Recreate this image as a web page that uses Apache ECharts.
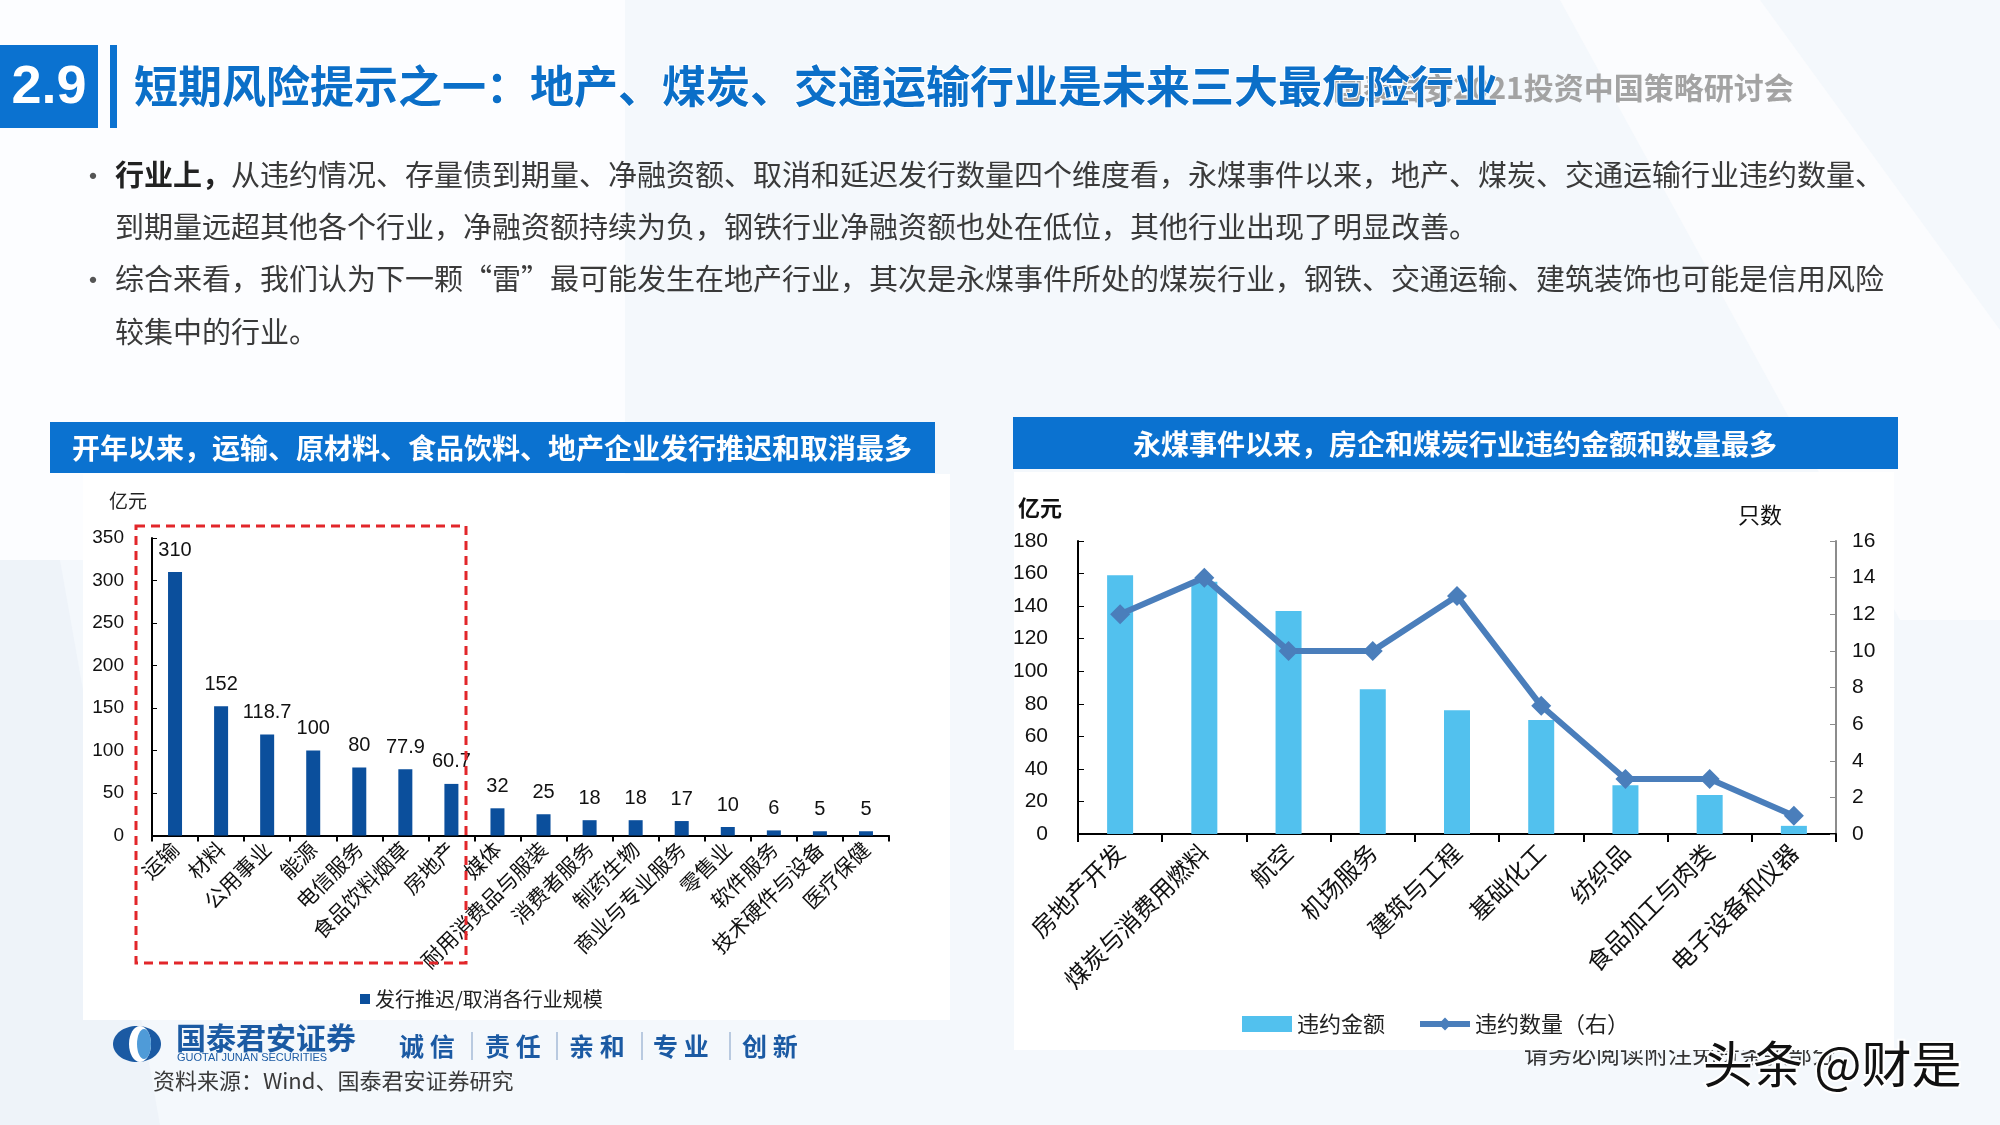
<!DOCTYPE html>
<html>
<head>
<meta charset="utf-8">
<title>短期风险提示之一</title>
<script src="https://cdn.jsdelivr.net/npm/echarts@6/dist/echarts.min.js"></script>
<style>
    html, body { margin: 0; padding: 0; background: #f4f8fc; }
    #main { width: 2000px; height: 1125px; }
</style>
</head>
<body>
<div id="main"></div>
<script type="text/javascript">
    // 左图：发行推迟/取消各行业规模（亿元）
    var leftCats = ['运输', '材料', '公用事业', '能源', '电信服务', '食品饮料烟草', '房地产', '媒体',
        '耐用消费品与服装', '消费者服务', '制药生物', '商业与专业服务', '零售业', '软件服务', '技术硬件与设备', '医疗保健'];
    var leftVals = [310, 152, 118.7, 100, 80, 77.9, 60.7, 32, 25, 18, 18, 17, 10, 6, 5, 5];

    // 右图：永煤事件以来违约金额（亿元）与违约数量（只）
    var rightCats = ['房地产开发', '煤炭与消费用燃料', '航空', '机场服务', '建筑与工程', '基础化工', '纺织品', '食品加工与肉类', '电子设备和仪器'];
    var rightAmt = [159, 155, 137, 89, 76, 70, 30, 24, 5];
    var rightNum = [12, 14, 10, 10, 13, 7, 3, 3, 1];

    var cjk = '"Noto Sans CJK SC", sans-serif';
    var num = '"Liberation Sans", Arial, sans-serif';
    var blue = '#0b72d0';

    var myChart = echarts.init(document.getElementById('main'));

    function txt(x, y, s, size, color, extra) {
        var st = { text: s, x: x, y: y, fontSize: size, fontFamily: cjk, fill: color, verticalAlign: 'middle' };
        for (var k in extra) st[k] = extra[k];
        return { type: 'text', z: 5, style: st };
    }

    var graphics = [
        // 背景斜块
        { type: 'rect', z: -10, shape: { x: 0, y: 0, width: 625, height: 560 }, style: { fill: '#fcfdff' } },
        { type: 'polygon', z: -9, shape: { points: [[1560, 0], [1760, 0], [2000, 330], [2000, 620], [1900, 620]] }, style: { fill: '#fbfcfe' } },
        { type: 'polygon', z: -9, shape: { points: [[0, 560], [60, 560], [160, 1125], [0, 1125]] }, style: { fill: '#eef3f9' } },

        // 标题
        { type: 'rect', z: 5, shape: { x: 0, y: 45, width: 98, height: 83 }, style: { fill: blue } },
        txt(49, 88, '2.9', 54, '#fff', { fontFamily: num, fontWeight: 'bold', align: 'center' }),
        { type: 'rect', z: 5, shape: { x: 110, y: 45, width: 7, height: 83 }, style: { fill: blue } },
        txt(1333, 88, '国泰君安2021投资中国策略研讨会', 30, '#a3a3a3', { fontWeight: 'bold' }),
        txt(134, 86, '短期风险提示之一：地产、煤炭、交通运输行业是未来三大最危险行业', 44, '#0b6fc8',
            { fontWeight: 'bold', stroke: '#ffffff', lineWidth: 2 }),

        // 要点
        txt(78, 176, '•', 30, '#555'),
        { type: 'text', z: 5, style: {
            x: 115, y: 175, verticalAlign: 'middle', fill: '#3a3a3a', fontSize: 29, fontFamily: cjk,
            text: '{b|行业上，}从违约情况、存量债到期量、净融资额、取消和延迟发行数量四个维度看，永煤事件以来，地产、煤炭、交通运输行业违约数量、',
            rich: { b: { fontWeight: 'bold', fontSize: 29, fontFamily: cjk, fill: '#222' } }
        } },
        txt(115, 227, '到期量远超其他各个行业，净融资额持续为负，钢铁行业净融资额也处在低位，其他行业出现了明显改善。', 29, '#3a3a3a'),
        txt(78, 280, '•', 30, '#555'),
        txt(115, 279, '综合来看，我们认为下一颗“雷”最可能发生在地产行业，其次是永煤事件所处的煤炭行业，钢铁、交通运输、建筑装饰也可能是信用风险', 29, '#3a3a3a'),
        txt(115, 332, '较集中的行业。', 29, '#3a3a3a'),

        // 免责提示（大部分被面板与水印遮挡）
        { type: 'text', z: -1, style: { text: '请务必阅读附注免责条款部分', x: 1524, y: 1054, fontSize: 24, fontFamily: cjk, fill: '#333', verticalAlign: 'middle' } },

        // 左图面板
        { type: 'rect', z: 1, shape: { x: 50, y: 422, width: 885, height: 51 }, style: { fill: blue } },
        txt(492, 448, '开年以来，运输、原材料、食品饮料、地产企业发行推迟和取消最多', 28, '#fff', { fontWeight: 'bold', align: 'center' }),
        { type: 'rect', z: 0, shape: { x: 83, y: 474, width: 867, height: 546 }, style: { fill: '#ffffff' } },
        txt(128, 501, '亿元', 19, '#222', { align: 'center' }),
        { type: 'rect', z: 6, shape: { x: 136, y: 526, width: 330, height: 437 },
          style: { fill: 'none', stroke: '#e2262a', lineWidth: 3, lineDash: [9, 6] } },

        // 右图面板
        { type: 'rect', z: 1, shape: { x: 1013, y: 417, width: 885, height: 52 }, style: { fill: blue } },
        txt(1455, 444, '永煤事件以来，房企和煤炭行业违约金额和数量最多', 28, '#fff', { fontWeight: 'bold', align: 'center' }),
        { type: 'rect', z: 0, shape: { x: 1014, y: 472, width: 880, height: 578 }, style: { fill: '#ffffff' } },
        txt(1040, 508, '亿元', 22, '#111', { fontWeight: 'bold', align: 'center' }),
        txt(1760, 515, '只数', 22, '#111', { align: 'center' }),

        // 页脚 logo
        { type: 'ellipse', z: 5, shape: { cx: 137, cy: 1044, rx: 24, ry: 18 }, style: { fill: '#1b5aa3' } },
        { type: 'ellipse', z: 6, shape: { cx: 140, cy: 1044, rx: 11, ry: 18 }, style: { fill: '#ffffff' } },
        { type: 'ellipse', z: 7, shape: { cx: 144, cy: 1044, rx: 7, ry: 15 }, style: { fill: '#4f9bd8' } },
        txt(176, 1038, '国泰君安证券', 30, '#1b5aa3', { fontWeight: 'bold' }),
        txt(177, 1058, 'GUOTAI JUNAN SECURITIES', 11, '#1b5aa3', { fontFamily: num }),
        txt(399, 1046, '诚 信', 25, '#1b5aa3', { fontWeight: 'bold' }),
        txt(485, 1046, '责 任', 25, '#1b5aa3', { fontWeight: 'bold' }),
        txt(569, 1046, '亲 和', 25, '#1b5aa3', { fontWeight: 'bold' }),
        txt(653, 1046, '专 业', 25, '#1b5aa3', { fontWeight: 'bold' }),
        txt(742, 1046, '创 新', 25, '#1b5aa3', { fontWeight: 'bold' }),
        txt(153, 1081, '资料来源：Wind、国泰君安证券研究', 22, '#3a3a3a'),

        // 水印
        txt(1703, 1064, '头条 @财是', 50, '#111', { stroke: '#ffffff', lineWidth: 4 })
    ];
    [472, 557, 642, 730].forEach(function (x) {
        graphics.push({ type: 'line', z: 5, shape: { x1: x, y1: 1032, x2: x, y2: 1060 }, style: { stroke: '#7f9cc4', lineWidth: 1 } });
    });

    var option = {
        backgroundColor: '#f4f8fc',
        animation: false,
        graphic: graphics,
        grid: [
            { left: 152, top: 538, width: 737, height: 297.5 },
            { left: 1078, top: 541, width: 758, height: 293 }
        ],
        legend: [
            {
                data: ['发行推迟/取消各行业规模'],
                left: 355, top: 984,
                icon: 'rect', itemWidth: 10, itemHeight: 10, itemGap: 4,
                textStyle: { fontSize: 20, fontFamily: cjk, color: '#222' }
            },
            {
                data: [
                    { name: '违约金额', icon: 'rect' },
                    { name: '违约数量（右）', lineStyle: { width: 6, color: '#4a7ebb' } }
                ],
                left: 1237, top: 1008,
                itemWidth: 50, itemHeight: 16, itemGap: 32,
                textStyle: { fontSize: 22, fontFamily: cjk, color: '#222' }
            }
        ],
        xAxis: [
            {
                type: 'category', gridIndex: 0, data: leftCats,
                axisLine: { lineStyle: { color: '#000', width: 2 } },
                axisTick: { show: true, length: 6, lineStyle: { color: '#000', width: 2 } },
                axisLabel: { interval: 0, rotate: 45, margin: 10, fontSize: 21, fontFamily: cjk, color: '#111' }
            },
            {
                type: 'category', gridIndex: 1, data: rightCats,
                axisLine: { lineStyle: { color: '#000', width: 2 } },
                axisTick: { show: true, length: 8, lineStyle: { color: '#000', width: 2 } },
                axisLabel: { interval: 0, rotate: 45, margin: 14, fontSize: 24, fontFamily: cjk, color: '#111' }
            }
        ],
        yAxis: [
            {
                type: 'value', gridIndex: 0, min: 0, max: 350, interval: 50,
                splitLine: { show: false },
                axisLine: { show: true, lineStyle: { color: '#000', width: 2 } },
                axisTick: { show: true, inside: true, length: 5, lineStyle: { color: '#000' } },
                axisLabel: { margin: 28, fontSize: 19, fontFamily: num, color: '#111' }
            },
            {
                type: 'value', gridIndex: 1, min: 0, max: 180, interval: 20,
                splitLine: { show: false },
                axisLine: { show: true, lineStyle: { color: '#000', width: 2 } },
                axisTick: { show: true, inside: true, length: 6, lineStyle: { color: '#000' } },
                axisLabel: { margin: 30, fontSize: 21, fontFamily: num, color: '#111' }
            },
            {
                type: 'value', gridIndex: 1, position: 'right', min: 0, max: 16, interval: 2,
                splitLine: { show: false },
                axisLine: { show: true, lineStyle: { color: '#8c8c8c', width: 2 } },
                axisTick: { show: true, inside: true, length: 6, lineStyle: { color: '#8c8c8c' } },
                axisLabel: { margin: 16, fontSize: 21, fontFamily: num, color: '#111' }
            }
        ],
        series: [
            {
                name: '发行推迟/取消各行业规模',
                type: 'bar', xAxisIndex: 0, yAxisIndex: 0,
                data: leftVals, barWidth: 14,
                itemStyle: { color: '#0b4f9c' },
                label: { show: true, position: 'top', distance: 12, fontSize: 20, fontFamily: num, color: '#111' }
            },
            {
                name: '违约金额',
                type: 'bar', xAxisIndex: 1, yAxisIndex: 1,
                data: rightAmt, barWidth: 26,
                itemStyle: { color: '#52c1ee' }
            },
            {
                name: '违约数量（右）',
                type: 'line', xAxisIndex: 1, yAxisIndex: 2,
                data: rightNum, z: 5,
                symbol: 'diamond', symbolSize: 20,
                itemStyle: { color: '#4a7ebb' },
                lineStyle: { color: '#4a7ebb', width: 6 }
            }
        ]
    };
    myChart.setOption(option);
</script>
</body>
</html>
